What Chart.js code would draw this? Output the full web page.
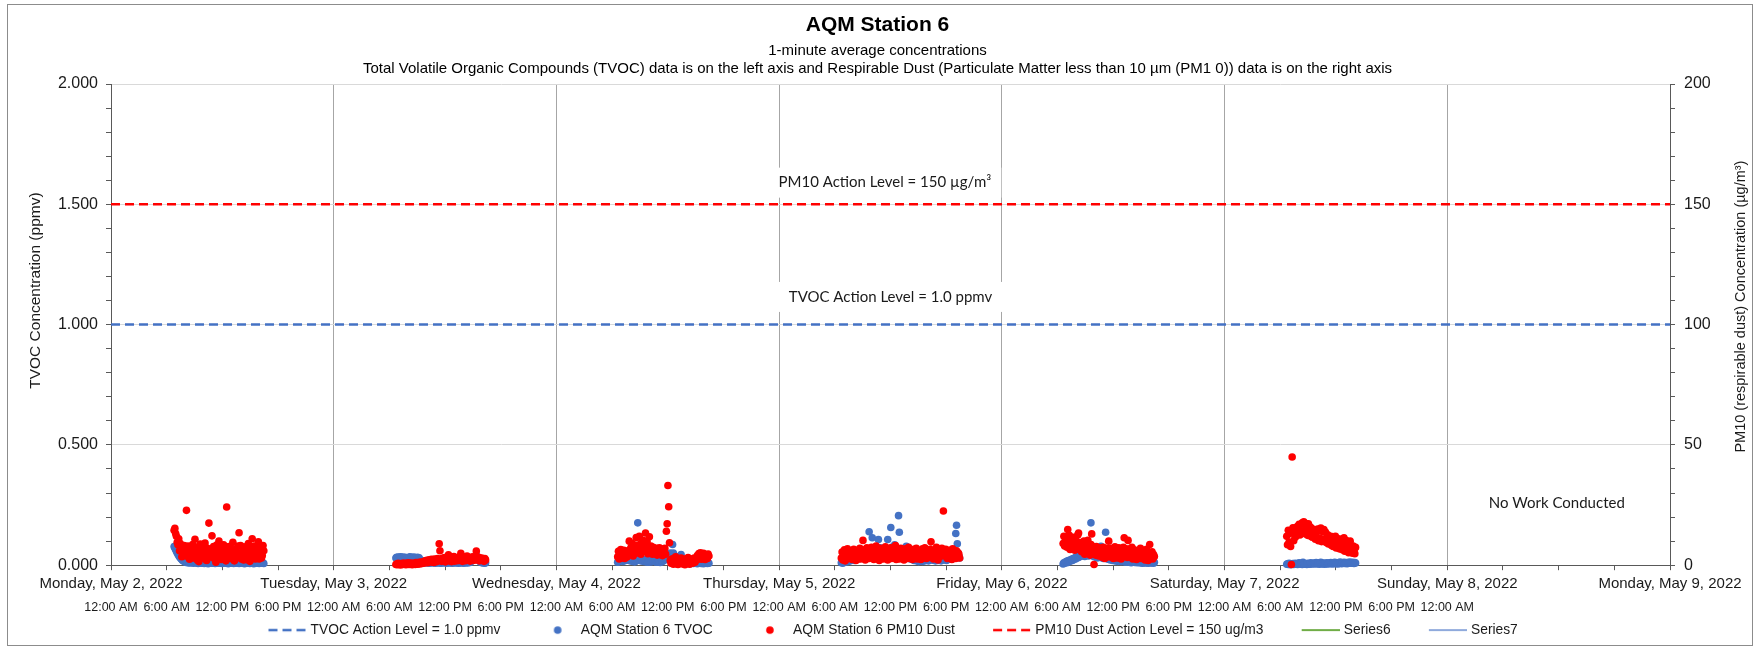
<!DOCTYPE html>
<html>
<head>
<meta charset="utf-8">
<script src="https://cdn.jsdelivr.net/npm/chart.js@4.4.0/dist/chart.umd.min.js"></script>
<style>
html,body{margin:0;padding:0;background:#fff;}
#wrap{position:relative;width:1760px;height:649px;}
canvas{display:block;}
</style>
</head>
<body>
<div id="wrap"><canvas id="c" width="1760" height="649"></canvas></div>
<script>
// ---------- data (hours counted from Monday May 2, 2022 12:00 AM) ----------
const dayLabels = ['Monday, May 2, 2022','Tuesday, May 3, 2022','Wednesday, May 4, 2022','Thursday, May 5, 2022','Friday, May 6, 2022','Saturday, May 7, 2022','Sunday, May 8, 2022','Monday, May 9, 2022'];
const timeLabels = ['12:00 AM','6:00 AM','12:00 PM','6:00 PM'];
const timeRowLastHour = 144;
const xMaxHours = 168;

const tvocActionLevel = 1.0;   // ppmv
const pm10ActionLevel = 150;   // ug/m3

// start of each monitoring session (hours from Mon 12:00 AM) and sampling step (5 min)
const sessionStart = [6.8, 30.7, 54.6, 78.7, 102.6, 126.7];
const sampleStepHours = 5 / 60;

// TVOC (ppmv)
const tvocMay2 = [
0.078,0.072,0.065,0.058,0.052,0.046,0.040,0.035,0.031,0.027,0.024,0.020,
0.018,0.015,0.016,0.012,0.014,0.010,0.013,0.011,0.009,0.012,0.010,0.014,
0.011,0.008,0.012,0.010,0.013,0.009,0.011,0.007,0.010,0.012,0.009,0.011,
0.008,0.013,0.010,0.007,0.011,0.009,0.012,0.010,0.006,0.011,0.009,0.013,
0.010,0.008,0.012,0.009,0.011,0.007,0.010,0.013,0.009,0.011,0.008,0.010,
0.012,0.009,0.007,0.011,0.010,0.013,0.008,0.010,0.012,0.009,0.006,0.010,
0.011,0.008,0.010,0.012,0.009,0.007,0.011,0.010,0.008,0.012,0.009,0.010,
0.007,0.011,0.009,0.012,0.008,0.010,0.011,0.006,0.009,0.012,0.010,0.008,
0.010,0.011,0.007,0.009,0.012,0.008,0.010,0.006,0.011,0.009,0.008,0.010,
0.012,0.009,0.007,0.010,0.011,0.008,0.009,0.010,0.007];
const tvocMay3 = [
0.030,0.033,0.028,0.034,0.031,0.026,0.035,0.032,0.029,0.034,0.030,0.027,
0.033,0.031,0.028,0.030,0.025,0.032,0.035,0.029,0.033,0.027,0.031,0.034,
0.028,0.032,0.030,0.026,0.033,0.029,0.031,0.024,0.020,0.018,0.015,0.012,
0.015,0.010,0.014,0.009,0.012,0.016,0.011,0.008,0.013,0.010,0.015,0.009,
0.012,0.014,0.010,0.008,0.011,0.013,0.009,0.012,0.010,0.014,0.008,0.011,
0.013,0.009,0.012,0.010,0.015,0.011,0.008,0.012,0.014,0.010,0.009,0.013,
0.011,0.008,0.012,0.010,0.014,0.009,0.011,0.013,0.010,0.008,0.012,0.011,
0.009,0.013,0.010,0.012,0.008,0.011,0.014,0.010,0.012,0.009,0.013,0.015,
0.011,0.016,0.018,0.021,0.024,0.028,0.030,0.035,0.042,0.033,0.028,0.022,
0.018,0.014,0.012,0.010,0.013,0.009,0.011,0.008,0.010];
const tvocMay4 = [
0.012,0.020,0.015,0.025,0.018,0.022,0.030,0.016,0.024,0.019,0.028,0.021,
0.026,0.030,0.022,0.027,0.018,0.024,0.020,0.016,0.023,0.019,0.014,0.021,
0.017,0.025,0.176,0.030,0.022,0.027,0.018,0.024,0.020,0.016,0.023,0.019,
0.014,0.021,0.017,0.012,0.018,0.015,0.020,0.013,0.016,0.025,0.018,0.022,
0.015,0.020,0.012,0.017,0.014,0.019,0.016,0.011,0.018,0.021,0.015,0.024,
0.020,0.028,0.035,0.030,0.025,0.032,0.040,0.030,0.050,0.038,0.045,0.086,
0.050,0.032,0.022,0.028,0.035,0.018,0.025,0.030,0.020,0.028,0.044,0.024,
0.020,0.012,0.016,0.009,0.014,0.010,0.007,0.012,0.008,0.011,0.006,0.010,
0.008,0.012,0.007,0.009,0.011,0.008,0.010,0.006,0.009,0.012,0.008,0.010,
0.007,0.011,0.009,0.006,0.010,0.008,0.012,0.009,0.007,0.010,0.008];
const tvocMay5 = [
0.010,0.015,0.008,0.020,0.012,0.018,0.025,0.014,0.022,0.016,0.028,0.020,
0.018,0.026,0.030,0.022,0.035,0.020,0.028,0.040,0.032,0.025,0.045,0.030,
0.038,0.028,0.050,0.035,0.042,0.030,0.055,0.040,0.048,0.036,0.060,0.045,
0.139,0.050,0.040,0.065,0.114,0.052,0.038,0.070,0.045,0.058,0.042,0.066,
0.107,0.048,0.072,0.040,0.062,0.035,0.055,0.070,0.044,0.050,0.038,0.060,
0.107,0.046,0.066,0.052,0.157,0.040,0.075,0.058,0.048,0.085,0.062,0.044,
0.070,0.054,0.206,0.137,0.060,0.045,0.068,0.052,0.040,0.058,0.046,0.036,
0.079,0.042,0.035,0.050,0.030,0.040,0.025,0.032,0.028,0.038,0.020,0.030,
0.024,0.018,0.026,0.020,0.015,0.022,0.028,0.018,0.024,0.016,0.020,0.026,
0.018,0.022,0.030,0.020,0.025,0.018,0.028,0.035,0.022,0.030,0.040,0.025,
0.020,0.028,0.018,0.024,0.032,0.020,0.026,0.022,0.030,0.018,0.025,0.028,
0.022,0.030,0.035,0.026,0.020,0.032,0.024,0.028,0.036,0.030,0.025,0.040,
0.034,0.028,0.045,0.058,0.132,0.166,0.089,0.050,0.038,0.030];
const tvocMay6 = [
0.005,0.010,0.008,0.012,0.015,0.010,0.018,0.014,0.020,0.016,0.022,0.025,
0.020,0.028,0.024,0.030,0.026,0.035,0.030,0.038,0.032,0.040,0.036,0.045,
0.038,0.042,0.050,0.044,0.036,0.048,0.040,0.052,0.045,0.038,0.050,0.055,
0.176,0.048,0.040,0.046,0.035,0.044,0.050,0.038,0.030,0.042,0.036,0.045,
0.032,0.079,0.040,0.034,0.028,0.038,0.030,0.137,0.036,0.032,0.025,0.030,
0.028,0.022,0.030,0.026,0.020,0.028,0.024,0.018,0.025,0.022,0.016,0.024,
0.020,0.018,0.024,0.015,0.020,0.017,0.022,0.014,0.019,0.016,0.012,0.018,
0.015,0.020,0.013,0.017,0.010,0.016,0.014,0.012,0.018,0.011,0.015,0.013,
0.010,0.014,0.012,0.016,0.009,0.013,0.011,0.008,0.014,0.010,0.012,0.009,
0.013,0.010,0.008,0.012,0.014,0.009,0.011,0.010,0.013,0.008,0.012];
const tvocMay7 = [
0.004,0.006,0.003,0.008,0.005,0.002,0.006,0.004,0.007,0.003,0.005,0.008,
0.004,0.006,0.003,0.007,0.010,0.005,0.004,0.006,0.003,0.012,0.007,0.004,
0.006,0.005,0.003,0.008,0.005,0.006,0.004,0.010,0.007,0.005,0.008,0.006,
0.009,0.005,0.011,0.007,0.006,0.009,0.004,0.008,0.012,0.006,0.005,0.009,
0.007,0.004,0.008,0.006,0.010,0.005,0.007,0.009,0.006,0.011,0.008,0.005,
0.009,0.007,0.012,0.006,0.008,0.010,0.005,0.009,0.007,0.013,0.008,0.006,
0.010,0.008,0.012,0.007,0.009,0.011,0.006,0.010,0.008,0.013,0.009,0.011,
0.008,0.012,0.010,0.007,0.011,0.009];

// PM10 dust (ug/m3)
const pm10May2 = [
14.5,15.3,13.2,12.0,9.5,8.5,11.0,6.0,9.0,7.2,3.5,7.0,
5.5,8.2,4.0,6.8,22.8,5.0,8.0,3.2,2.5,7.4,6.5,4.6,
8.6,3.0,6.0,10.8,4.0,7.5,2.2,5.4,1.5,6.0,8.8,3.6,
3.0,6.4,5.5,8.0,9.2,2.6,2.0,7.0,4.4,17.5,6.5,3.4,
5.8,12.2,4.5,7.8,2.8,6.2,1.2,8.4,5.0,3.8,10.0,7.0,
5.8,2.4,3.2,6.6,8.5,4.2,6.2,1.8,24.2,5.2,2.8,7.8,
7.2,3.6,4.8,6.0,9.5,2.2,1.8,5.6,6.8,4.0,3.8,8.0,
13.5,5.0,8.2,2.6,5.2,7.2,2.2,4.6,7.6,3.0,4.2,6.4,
9.0,2.0,1.6,5.8,6.4,11.0,3.4,7.4,8.0,2.6,5.6,4.4,
6.8,9.7,2.6,5.2,7.0,3.0,4.0,8.2,6.0];
const pm10May3 = [
0.3,0.5,0.2,0.8,0.4,0.6,0.1,0.7,0.5,0.3,0.9,0.4,
0.6,0.2,0.8,0.5,1.0,0.3,0.7,0.4,0.9,0.2,0.6,0.5,
0.8,0.3,1.1,0.6,0.4,0.9,1.2,0.5,0.8,1.3,0.7,1.0,
1.5,0.9,1.8,1.2,2.0,1.0,1.6,2.2,1.3,1.9,2.5,1.4,
2.0,1.1,2.6,1.7,2.3,1.5,2.8,2.1,8.9,6.0,2.4,1.6,
2.9,1.8,2.5,3.2,1.4,2.7,2.0,3.0,4.3,1.8,2.6,3.4,
1.5,2.8,2.2,3.6,1.7,2.4,3.0,1.9,2.6,3.3,2.0,2.7,
4.9,2.5,1.6,3.1,2.2,3.4,1.9,2.8,3.8,2.1,2.5,3.1,
1.7,2.9,2.4,3.5,2.0,2.6,3.2,2.2,5.9,3.0,2.3,3.3,
1.8,2.9,2.4,3.0,2.0,2.6,1.6,2.8,2.2];
const pm10May4 = [
3.5,5.8,2.6,4.4,6.5,3.0,5.2,4.0,6.2,2.8,4.8,5.6,
3.4,6.0,4.6,10.0,4.8,7.2,5.5,9.0,3.8,6.8,8.2,5.0,
11.5,5.2,8.4,6.2,12.0,7.5,4.6,9.6,6.4,10.4,5.8,8.8,
13.4,6.2,9.8,4.8,7.6,11.8,5.8,8.0,6.6,4.6,7.4,5.6,
6.6,5.0,7.0,4.2,6.0,5.4,7.2,4.4,6.8,5.2,4.0,6.4,
5.0,7.0,4.6,14.1,17.2,33.1,24.3,9.3,2.0,0.8,2.6,1.2,
0.4,2.9,1.0,3.5,0.6,1.8,0.3,2.4,1.1,0.7,3.0,1.5,
0.5,2.2,1.3,0.2,2.7,1.6,0.9,3.2,1.4,0.4,2.0,1.1,
2.6,0.8,1.9,3.0,1.2,2.4,2.2,4.0,2.8,4.8,3.2,5.2,
2.5,4.4,3.6,4.9,3.0,2.4,4.2,3.4,2.8,4.6,3.8];
const pm10May5 = [
3.0,5.5,2.2,4.6,6.4,1.8,5.0,3.6,6.8,2.8,4.2,5.8,
3.2,6.0,2.4,4.8,6.6,3.4,5.2,2.0,4.4,6.2,3.0,5.6,
7.0,2.6,4.0,5.4,10.3,3.8,6.4,2.2,4.8,7.2,3.6,5.0,
2.8,6.0,4.4,7.4,3.2,5.6,2.4,6.8,4.2,8.0,3.0,5.2,
6.6,2.0,4.6,7.0,3.4,5.8,2.6,6.2,4.0,7.6,3.2,5.4,
2.2,6.8,4.8,3.6,7.2,2.8,5.0,6.4,3.4,4.6,8.2,2.4,
5.6,3.8,6.6,2.6,4.4,7.0,3.0,5.2,6.0,2.2,4.8,6.8,
3.6,5.4,2.8,7.4,4.0,6.2,3.2,5.8,2.4,4.6,6.6,3.4,
5.0,7.0,2.6,4.2,6.0,3.6,5.6,2.4,4.8,6.8,3.0,5.2,
7.2,4.0,2.8,5.8,6.4,3.2,4.4,6.6,9.7,3.8,5.4,2.6,
6.2,4.6,3.4,7.4,5.0,2.2,6.0,4.2,3.6,5.8,7.0,4.8,
22.5,5.2,3.8,6.6,4.4,2.8,5.4,3.6,6.2,4.0,5.0,2.4,
6.8,3.2,5.6,4.4,2.8,6.0,3.6,5.2,4.6,3.0];
const pm10May6 = [
9.0,12.0,8.0,10.5,11.2,7.5,14.8,8.8,12.4,6.5,10.0,9.2,
7.8,11.6,8.4,6.2,10.8,9.6,7.0,12.6,13.4,8.2,6.4,9.4,
5.6,8.2,6.8,10.0,4.6,7.6,9.0,5.8,10.3,7.2,6.0,4.2,
8.6,13.0,5.2,7.8,0.3,6.2,4.2,7.8,5.0,6.6,3.8,7.2,
5.4,4.0,6.8,3.2,7.4,5.6,2.8,6.4,4.6,7.0,3.6,10.0,
6.0,3.4,7.0,4.8,6.2,2.8,5.6,7.6,4.4,6.6,3.0,5.2,
7.2,4.0,5.8,2.6,6.4,3.8,7.4,11.4,5.8,4.6,6.8,3.2,
10.3,5.4,3.6,6.8,4.2,7.4,2.6,5.0,6.4,3.2,5.8,2.4,
4.6,6.0,3.0,5.4,7.0,2.8,4.4,6.2,3.4,5.6,2.2,4.8,
6.6,3.6,2.0,5.2,8.6,4.2,3.0,5.6,2.6,4.4,3.6];
const pm10May7 = [
12.0,8.5,14.5,9.5,13.2,7.8,0.3,45.0,15.5,10.2,13.8,11.6,
15.6,12.4,16.2,13.0,17.0,12.6,16.8,14.0,17.6,13.2,18.0,14.4,
17.4,13.0,16.6,12.4,17.2,13.6,16.0,12.0,15.4,11.6,14.8,12.8,
14.2,10.8,13.6,11.6,15.0,10.2,14.6,11.2,15.4,9.8,14.0,10.8,
14.8,10.2,13.8,9.4,11.8,12.6,8.8,11.2,9.6,12.0,8.2,10.6,
7.8,11.4,9.0,12.0,7.2,10.2,8.4,11.0,6.8,9.6,7.6,10.8,
6.4,9.0,11.4,5.8,8.6,10.2,6.6,9.4,5.2,7.8,10.0,6.0,
7.2,5.0,8.0,6.2,4.8,7.4];

const tvocSessions = [tvocMay2, tvocMay3, tvocMay4, tvocMay5, tvocMay6, tvocMay7];
const pm10Sessions = [pm10May2, pm10May3, pm10May4, pm10May5, pm10May6, pm10May7];

// ---------- build chart ----------
const ARIAL = '"Liberation Sans", Arial, sans-serif';
const CALIBRI = 'Lato, "Open Sans", sans-serif';
const TXT = '#1a1a1a';
const BLUE = '#4472C4', RED = '#FF0000', GREEN = '#70AD47', LIGHTBLUE = '#8FAADC';

function toPoints(startHour, values) {
  return values.map((v, i) => ({ x: startHour + i * sampleStepHours, y: v }));
}
const tvocPoints = tvocSessions.flatMap((vals, d) => toPoints(sessionStart[d], vals));
const pm10Points = pm10Sessions.flatMap((vals, d) => toPoints(sessionStart[d], vals));

// legend markers: 72px canvases, marker occupies the rightmost 38px
function lineMarker(color, dash, width) {
  const c = document.createElement('canvas'); c.width = 72; c.height = 6;
  const g = c.getContext('2d'); g.strokeStyle = color; g.lineWidth = width; g.setLineDash(dash);
  g.beginPath(); g.moveTo(34, 3); g.lineTo(72, 3); g.stroke(); return c;
}
function dotMarker(color) {
  const c = document.createElement('canvas'); c.width = 72; c.height = 10;
  const g = c.getContext('2d'); g.fillStyle = color; g.beginPath(); g.arc(53, 5, 3.8, 0, Math.PI * 2); g.fill(); return c;
}
const legendMarkers = [lineMarker(BLUE, [9, 5], 2.5), dotMarker(BLUE), dotMarker(RED), lineMarker(RED, [9, 5], 2.5), lineMarker(GREEN, [], 2), lineMarker(LIGHTBLUE, [], 2)];

const isMultiple = (v, step) => Math.abs(v / step - Math.round(v / step)) < 1e-6;

const annotations = [
  { text: 'PM10 Action Level = 150 µg/m³', hour: 83.4, axis: 'y2', value: 159, box: true },
  { text: 'TVOC Action Level = 1.0 ppmv', hour: 84.0, axis: 'y', value: 1.115, box: true },
  { text: 'No Work Conducted', hour: 155.8, axis: 'y', value: 0.258, box: false }
];

function drawVerticalText(ctx, text, x, y, font) {
  ctx.save();
  ctx.font = font; ctx.fillStyle = TXT;
  ctx.textAlign = 'center'; ctx.textBaseline = 'middle';
  ctx.translate(x, y); ctx.rotate(-Math.PI / 2);
  ctx.fillText(text, 0, 0);
  ctx.restore();
}

const extras = {
  id: 'extras',
  beforeDatasetsDraw(chart) {
    const ctx = chart.ctx;
    ctx.save();
    ctx.font = '15px ' + CALIBRI;
    ctx.textAlign = 'center'; ctx.textBaseline = 'middle';
    annotations.forEach(a => {
      const x = chart.scales.x.getPixelForValue(a.hour);
      const y = chart.scales[a.axis].getPixelForValue(a.value);
      const w = ctx.measureText(a.text).width;
      if (a.box) { ctx.fillStyle = '#fff'; ctx.fillRect(x - w / 2 - 10, y - 15, w + 20, 30); }
      ctx.fillStyle = TXT; ctx.fillText(a.text, x, y);
    });
    ctx.restore();
  },
  afterDraw(chart) {
    const ctx = chart.ctx, ca = chart.chartArea;
    const mid = (ca.top + ca.bottom) / 2;
    drawVerticalText(ctx, 'TVOC Concentration (ppmv)', chart.scales.y.left + 31, mid - 34, '15.5px ' + ARIAL);
    drawVerticalText(ctx, 'PM10 (respirable dust) Concentration (µg/m³)', chart.scales.y2.right - 9, mid - 18, '14.5px ' + ARIAL);
    ctx.save();
    ctx.strokeStyle = '#8c8c8c'; ctx.lineWidth = 1;
    ctx.strokeRect(7.5, 4.5, chart.width - 15, chart.height - 8);
    ctx.restore();
  }
};

Chart.defaults.font.family = ARIAL;
Chart.defaults.color = TXT;

new Chart(document.getElementById('c'), {
  type: 'scatter',
  data: {
    datasets: [
      { label: 'TVOC Action Level = 1.0 ppmv', data: [{ x: 0, y: tvocActionLevel }, { x: xMaxHours, y: tvocActionLevel }], showLine: true, borderColor: BLUE, borderWidth: 2.5, borderDash: [9, 5], pointRadius: 0, yAxisID: 'y', order: 0 },
      { label: 'AQM Station 6 TVOC', data: tvocPoints, backgroundColor: BLUE, borderColor: BLUE, borderWidth: 0, pointRadius: 3.8, pointHoverRadius: 3.8, yAxisID: 'y', clip: false, order: 2 },
      { label: 'AQM Station 6 PM10 Dust', data: pm10Points, backgroundColor: RED, borderColor: RED, borderWidth: 0, pointRadius: 3.8, pointHoverRadius: 3.8, yAxisID: 'y2', clip: false, order: 1 },
      { label: 'PM10 Dust Action Level = 150 ug/m3', data: [{ x: 0, y: pm10ActionLevel }, { x: xMaxHours, y: pm10ActionLevel }], showLine: true, borderColor: RED, borderWidth: 2.5, borderDash: [9, 5], pointRadius: 0, yAxisID: 'y2', order: 0 },
      { label: 'Series6', data: [], showLine: true, borderColor: GREEN, borderWidth: 2, pointRadius: 0, yAxisID: 'y', order: 0 },
      { label: 'Series7', data: [], showLine: true, borderColor: LIGHTBLUE, borderWidth: 2, pointRadius: 0, yAxisID: 'y', order: 0 }
    ]
  },
  options: {
    responsive: false,
    animation: false,
    devicePixelRatio: 1,
    layout: { padding: { left: 5, right: 10, top: 0, bottom: 2 } },
    plugins: {
      title: { display: true, text: 'AQM Station 6', color: '#000', font: { family: ARIAL, size: 21, weight: 'bold' }, padding: { top: 12.4, bottom: 0 } },
      subtitle: { display: true, text: ['1-minute average concentrations', 'Total Volatile Organic Compounds (TVOC) data is on the left axis and Respirable Dust (Particulate Matter less than 10 µm (PM1 0)) data is on the right axis'], color: '#000', font: { family: ARIAL, size: 15 }, padding: { top: 3.9, bottom: 6.5 } },
      legend: {
        position: 'bottom', fullSize: true,
        labels: {
          usePointStyle: true, pointStyleWidth: 66.5, boxHeight: 14, padding: 7, color: TXT,
          font: { family: ARIAL, size: 13.8 },
          generateLabels(chart) {
            return chart.data.datasets.map((ds, i) => ({
              text: ds.label, fillStyle: ds.borderColor, strokeStyle: ds.borderColor, lineWidth: 0,
              pointStyle: legendMarkers[i], hidden: false, datasetIndex: i, fontColor: TXT
            }));
          }
        }
      },
      tooltip: { enabled: false }
    },
    scales: {
      x: {
        type: 'linear', position: 'bottom', min: 0, max: xMaxHours,
        afterFit(s) { s.height = 28; },
        border: { display: true, color: '#595959', width: 1 },
        grid: { color: c => (c.tick && isMultiple(c.tick.value, 24)) ? '#A6A6A6' : 'rgba(0,0,0,0)', tickColor: '#595959', tickLength: 5, drawTicks: true },
        ticks: { stepSize: 6, maxTicksLimit: 1000, autoSkip: false, maxRotation: 0, minRotation: 0, padding: 5, color: TXT, font: { size: 15 },
          callback: v => isMultiple(v, 24) ? dayLabels[Math.round(v / 24)] : '' }
      },
      x2: {
        type: 'linear', position: 'bottom', min: 0, max: xMaxHours,
        afterFit(s) { s.height = 23; },
        border: { display: false },
        grid: { display: false, drawTicks: false, tickLength: 0 },
        ticks: { stepSize: 6, maxTicksLimit: 1000, autoSkip: false, maxRotation: 0, minRotation: 0, padding: 7, color: TXT, font: { size: 12.5 },
          callback: v => (v <= timeRowLastHour && isMultiple(v, 6)) ? timeLabels[Math.round(v / 6) % 4] : '' }
      },
      y: {
        type: 'linear', position: 'left', min: 0, max: 2,
        afterFit(s) { s.width = 106; },
        border: { display: true, color: '#595959', width: 1 },
        grid: { color: c => (c.tick && isMultiple(c.tick.value, 0.5)) ? '#D9D9D9' : 'rgba(0,0,0,0)', tickColor: '#595959', tickLength: 5 },
        ticks: { stepSize: 0.1, maxTicksLimit: 1000, autoSkip: false, padding: 8, color: TXT, font: { size: 16 },
          callback: v => isMultiple(v, 0.5) ? v.toFixed(3) : '' },
        title: { display: false }
      },
      y2: {
        type: 'linear', position: 'right', min: 0, max: 200,
        afterFit(s) { s.width = 80; },
        border: { display: true, color: '#595959', width: 1 },
        grid: { drawOnChartArea: false, tickColor: '#595959', tickLength: 5 },
        ticks: { stepSize: 10, maxTicksLimit: 1000, autoSkip: false, padding: 9, color: TXT, font: { size: 16 },
          callback: v => isMultiple(v, 50) ? String(Math.round(v)) : '' }
      }
    }
  },
  plugins: [extras]
});
</script>
</body>
</html>
